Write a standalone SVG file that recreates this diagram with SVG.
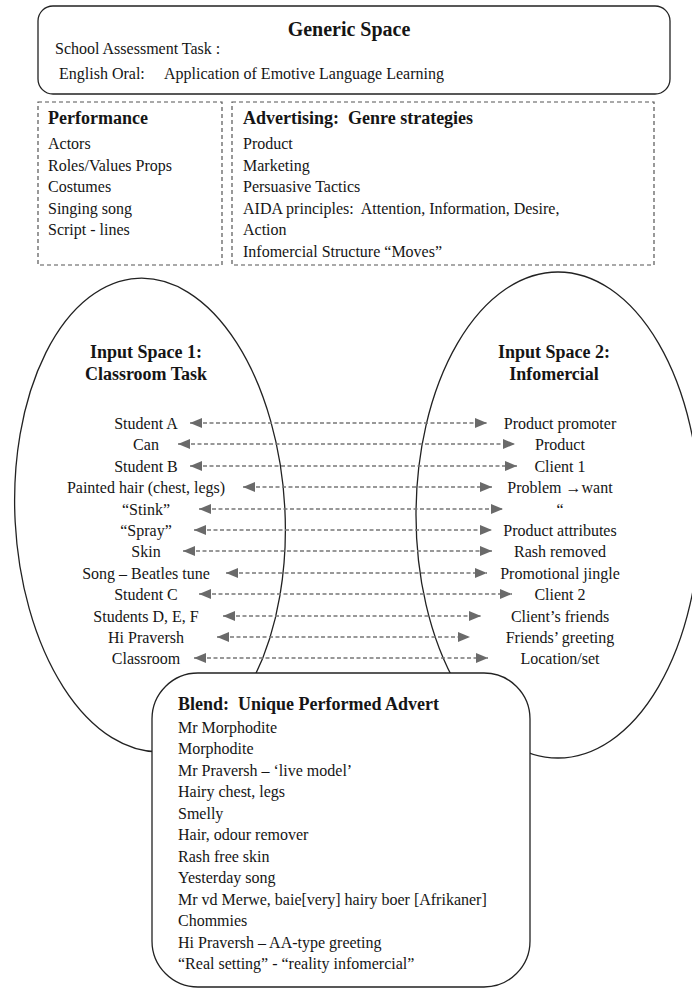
<svg xmlns="http://www.w3.org/2000/svg" width="692" height="989" viewBox="0 0 692 989">
<style>
text{font-family:"Liberation Serif","Times New Roman",serif;fill:#151515;font-size:16px}
.b{font-weight:bold}
.h{font-weight:bold;font-size:18px}
.c{text-anchor:middle}
.solid{fill:#fff;stroke:#222;stroke-width:1.3}
.dash{fill:#fff;stroke:#555;stroke-width:1.2;stroke-dasharray:4 3}
.ell{fill:none;stroke:#222;stroke-width:1.3}
.con{stroke:#777;stroke-width:1.4;stroke-dasharray:4 2.5;fill:none;marker-start:url(#ah);marker-end:url(#ah)}
</style>
<defs>
<marker id="ah" markerUnits="userSpaceOnUse" markerWidth="13" markerHeight="11" refX="12" refY="5" orient="auto-start-reverse">
<path d="M0,0 L12,5 L0,10 Z" fill="#6a6a6a"/>
</marker>
</defs>
<rect width="692" height="989" fill="#fff"/>

<g id="generic-space">
<rect class="solid" x="38" y="6" width="632" height="88" rx="15"/>
<text class="b c" x="349" y="36" style="font-size:20px">Generic Space</text>
<text x="55" y="54">School Assessment Task :</text>
<text x="59" y="79">English Oral:<tspan x="164">Application of Emotive Language Learning</tspan></text>
</g>

<g id="performance">
<rect class="dash" x="38" y="102" width="184" height="163"/>
<text class="h" x="48" y="124">Performance</text>
<text x="48" y="149">Actors</text>
<text x="48" y="171">Roles/Values Props</text>
<text x="48" y="192">Costumes</text>
<text x="48" y="214">Singing song</text>
<text x="48" y="235">Script - lines</text>
</g>

<g id="advertising">
<rect class="dash" x="232" y="102" width="422" height="163"/>
<text class="h" x="243" y="124">Advertising:&#160; Genre strategies</text>
<text x="243" y="149">Product</text>
<text x="243" y="171">Marketing</text>
<text x="243" y="192">Persuasive Tactics</text>
<text x="243" y="214">AIDA principles:&#160; Attention, Information, Desire,</text>
<text x="243" y="235">Action</text>
<text x="243" y="257">Infomercial Structure “Moves”</text>
</g>

<g id="input-space-1">
<ellipse class="ell" cx="150" cy="515" rx="135" ry="237" transform="rotate(-3 150 515)"/>
<text class="h c" x="146" y="358">Input Space 1:</text>
<text class="h c" x="146" y="380">Classroom Task</text>
<text class="c" x="146" y="429">Student A</text>
<text class="c" x="146" y="450">Can</text>
<text class="c" x="146" y="472">Student B</text>
<text class="c" x="146" y="493">Painted hair (chest, legs)</text>
<text class="c" x="146" y="515">“Stink”</text>
<text class="c" x="146" y="536">“Spray”</text>
<text class="c" x="146" y="557">Skin</text>
<text class="c" x="146" y="579">Song – Beatles tune</text>
<text class="c" x="146" y="600">Student C</text>
<text class="c" x="146" y="622">Students D, E, F</text>
<text class="c" x="146" y="643">Hi Praversh</text>
<text class="c" x="146" y="664">Classroom</text>
</g>

<g id="input-space-2">
<ellipse class="ell" cx="558" cy="515" rx="142" ry="243"/>
<text class="h c" x="554" y="358">Input Space 2:</text>
<text class="h c" x="554" y="380">Infomercial</text>
<text class="c" x="560" y="429">Product promoter</text>
<text class="c" x="560" y="450">Product</text>
<text class="c" x="560" y="472">Client 1</text>
<text class="c" x="560" y="493">Problem →want</text>
<text class="c" x="560" y="515">“</text>
<text class="c" x="560" y="536">Product attributes</text>
<text class="c" x="560" y="557">Rash removed</text>
<text class="c" x="560" y="579">Promotional jingle</text>
<text class="c" x="560" y="600">Client 2</text>
<text class="c" x="560" y="622">Client’s friends</text>
<text class="c" x="560" y="643">Friends’ greeting</text>
<text class="c" x="560" y="664">Location/set</text>
</g>

<g id="connectors">
<line class="con" x1="190" y1="423" x2="487" y2="423"/>
<line class="con" x1="178" y1="444" x2="515" y2="444"/>
<line class="con" x1="190" y1="466" x2="517" y2="466"/>
<line class="con" x1="243" y1="487" x2="492" y2="487"/>
<line class="con" x1="199" y1="509" x2="503" y2="509"/>
<line class="con" x1="194" y1="530" x2="492" y2="530"/>
<line class="con" x1="183" y1="551" x2="492" y2="551"/>
<line class="con" x1="226" y1="573" x2="487" y2="573"/>
<line class="con" x1="199" y1="594" x2="512" y2="594"/>
<line class="con" x1="223" y1="616" x2="481" y2="616"/>
<line class="con" x1="217" y1="637" x2="470" y2="637"/>
<line class="con" x1="194" y1="658" x2="488" y2="658"/>
</g>

<g id="blend">
<rect class="solid" x="152" y="673" width="378" height="314" rx="46"/>
<text class="h" x="178" y="710">Blend:&#160; Unique Performed Advert</text>
<text x="178" y="733">Mr Morphodite</text>
<text x="178" y="754">Morphodite</text>
<text x="178" y="776">Mr Praversh – ‘live model’</text>
<text x="178" y="797">Hairy chest, legs</text>
<text x="178" y="819">Smelly</text>
<text x="178" y="840">Hair, odour remover</text>
<text x="178" y="862">Rash free skin</text>
<text x="178" y="883">Yesterday song</text>
<text x="178" y="905">Mr vd Merwe, baie[very] hairy boer [Afrikaner]</text>
<text x="178" y="926">Chommies</text>
<text x="178" y="948">Hi Praversh – AA-type greeting</text>
<text x="178" y="969">“Real setting” - “reality infomercial”</text>
</g>
</svg>
